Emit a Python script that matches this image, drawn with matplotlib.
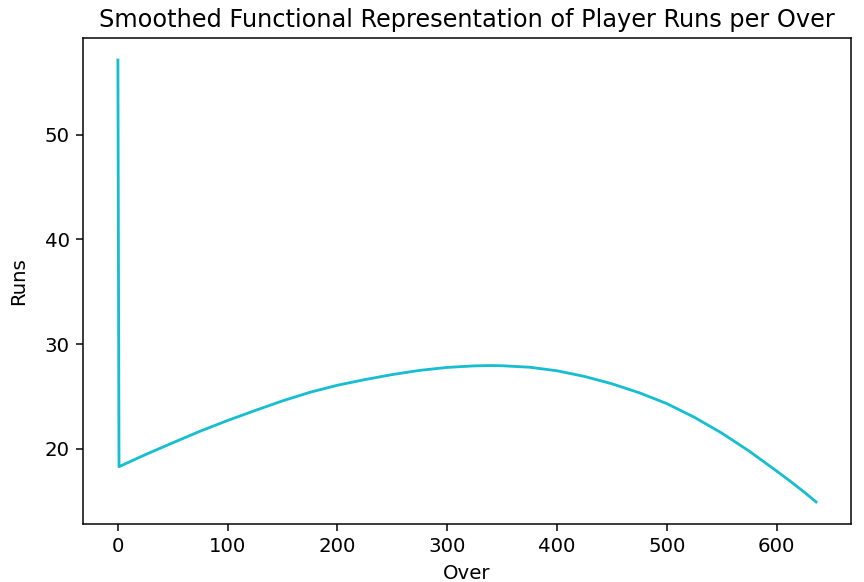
import matplotlib
matplotlib.use("Agg")
import matplotlib.pyplot as plt

# Smoothed runs-per-over curve (over index, runs)
overs = [0, 1, 25, 50, 75, 100, 125, 150, 175, 200, 225, 250, 275, 300,
         325, 340, 350, 375, 400, 425, 450, 475, 500, 525, 550, 575, 600,
         612, 625, 636]
runs = [57.1, 18.31, 19.46, 20.59, 21.70, 22.72, 23.67, 24.59, 25.41, 26.08,
        26.62, 27.10, 27.50, 27.78, 27.93, 27.96, 27.94, 27.80, 27.46, 26.92,
        26.22, 25.36, 24.33, 23.03, 21.52, 19.80, 17.90, 16.96, 15.90, 14.95]

DPI = 135
fig = plt.figure(figsize=(864 / DPI, 582 / DPI), dpi=DPI)
ax = fig.add_axes([83 / 864, 1 - 524 / 582, (851 - 83) / 864, (524 - 38) / 582])

ax.plot(overs, runs, color="#17becf")
ax.set_title("Smoothed Functional Representation of Player Runs per Over",
             fontsize=12.8)
ax.set_xlabel("Over", fontsize=10.5)
ax.set_ylabel("Runs", fontsize=10.5, labelpad=9)
ax.tick_params(labelsize=10.5)

fig.savefig("out.png", dpi=DPI)
